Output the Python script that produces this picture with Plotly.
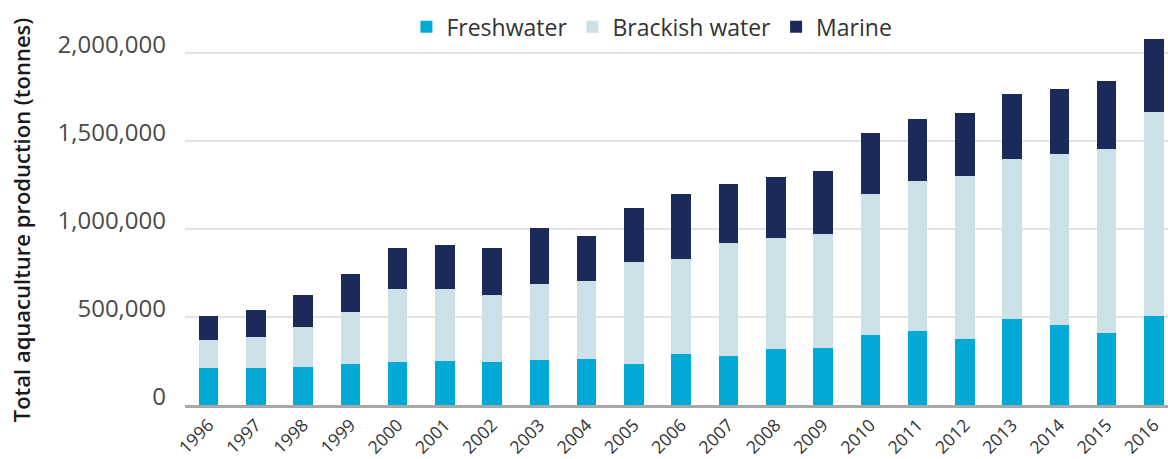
import plotly.graph_objects as go

years = [str(y) for y in range(1996, 2017)]
freshwater = [212000, 212000, 218000, 233000, 242000, 252000, 242000, 256000, 263000, 233000,
              290000, 278000, 316000, 326000, 398000, 422000, 375000, 489000, 456000, 407000, 504000]
brackish_top = [369000, 385000, 445000, 527000, 657000, 661000, 623000, 686000, 701000, 814000,
                831000, 919000, 947000, 968000, 1195000, 1273000, 1301000, 1394000, 1424000, 1455000, 1661000]
total = [506000, 538000, 625000, 742000, 890000, 907000, 890000, 1005000, 960000, 1120000,
         1195000, 1256000, 1296000, 1330000, 1542000, 1623000, 1657000, 1767000, 1795000, 1841000, 2078000]
brackish = [b - f for b, f in zip(brackish_top, freshwater)]
marine = [t - b for t, b in zip(total, brackish_top)]

y_ticks = [0, 500000, 1000000, 1500000, 2000000]
y_tick_text = ["0", "500,000", "1,000,000", "1,500,000", "2,000,000"]

font_family = "Open Sans, Liberation Sans, Arial, sans-serif"

fig = go.Figure()
for name, vals, color in [("Freshwater", freshwater, "#00AAD4"),
                          ("Brackish water", brackish, "#CCE1E7"),
                          ("Marine", marine, "#1B2A58")]:
    fig.add_trace(go.Bar(x=years, y=vals, name=name, marker_color=color,
                         marker_line_width=0))

fig.update_layout(
    barmode="stack",
    bargap=0.587,
    width=1168, height=459,
    margin=dict(l=185, r=0, t=35, b=54, autoexpand=False),
    paper_bgcolor="white", plot_bgcolor="white",
    font=dict(family=font_family, size=16, color="#333333"),
    legend=dict(orientation="h", x=0.475, xanchor="center", y=1.022, yanchor="middle",
                font=dict(size=23, color="#333333"), traceorder="normal",
                itemwidth=30, tracegroupgap=0),
    showlegend=True,
)
fig.update_xaxes(
    type="category", range=[-0.5, 20.3],
    tickangle=-45, tickfont=dict(size=17.5, color="#333333"),
    showline=True, linecolor="#A8A8A8", linewidth=3,
    showgrid=False, ticks="", automargin=False,
)
fig.update_yaxes(
    range=[0, 2100000],
    tickvals=y_ticks, ticktext=y_tick_text,
    tickfont=dict(size=24, color="#4A4A4A"),
    showgrid=True, gridcolor="#E3E3E3", gridwidth=2,
    zeroline=False, automargin=False,
    ticklabelstandoff=18,
    ticklabelshift=-8,
    title=dict(text="Total aquaculture production (tonnes)",
               font=dict(size=22, color="#1A1A1A", weight=600), standoff=20),
)

fig.write_html("out.html", config={"displayModeBar": False},
               post_script="document.body.style.margin='0px';")
